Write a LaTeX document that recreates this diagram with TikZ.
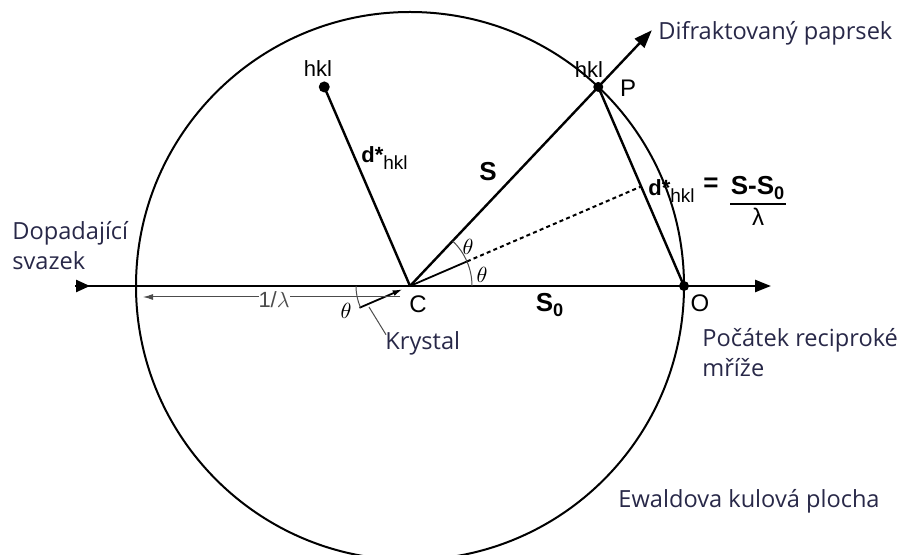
\documentclass[tikz,border=0pt]{standalone}
\usepackage{fontspec}
\setmainfont{Liberation Sans}
\newfontfamily\notefont{Open Sans}
\usetikzlibrary{arrows.meta,calc,positioning}
\definecolor{notecol}{RGB}{40,40,72}

\begin{document}
\begin{tikzpicture}[x=0.5pt,y=-0.5pt,
    beam/.style={line width=1.2pt},
    thinline/.style={line width=0.5pt,black!70},
    note/.style={font=\notefont\fontsize{11.8}{15}\selectfont,text=notecol,align=left,inner sep=0pt},
    lbl/.style={font=\fontsize{11}{13}\selectfont,inner sep=0pt},
    vec/.style={font=\bfseries\fontsize{13}{15}\selectfont,inner sep=0pt},
    ang/.style={font=\fontsize{11}{13}\selectfont,inner sep=0pt},
    spot/.style={circle,fill,inner sep=0pt,minimum size=5pt}]
  \useasboundingbox (0,0) rectangle (898,555);
  % Ewald sphere around the crystal C
  \coordinate (C) at (410,286);
  \coordinate (O) at (684,286);
  \coordinate (P) at ($(C)+(-46.6:274)$);
  \coordinate (hklA) at ($(C)+(P)-(O)$);
  \coordinate (dif) at ($(C)+(-46.6:352)$);
  \coordinate (mid) at ($(P)!0.5!(O)$);
  \coordinate (bis) at ($(C)+(-23.3:62)$);
  \coordinate (kry) at ($(C)+(156.7:55)$);
  \draw[line width=1pt] (C) circle[radius=274];
  % incident beam
  \coordinate (inL) at (75,286);
  \coordinate (inT) at (90,286);
  \coordinate (outR) at (771,286);
  \draw[beam,-{Triangle[length=8pt,width=6pt]}] (inL) -- (outR);
  \draw[beam,-{Triangle[length=7pt,width=6pt]}] (inL) -- (inT);
  % vectors
  \draw[beam] (C) -- (hklA);
  \draw[beam,-{Triangle[length=9pt,width=6.5pt]}] (C) -- (dif);
  \draw[beam] (P) -- (O);
  \draw[line width=0.9pt] (C) -- (bis);
  \draw[line width=1pt,dash pattern=on 2pt off 1.6pt] (bis) -- (mid);
  \coordinate (arcA) at ($(C)+(0:62)$);
  \draw[thinline] (arcA) arc[start angle=0,end angle=-46.6,radius=62];
  \node[ang] (thA) at (482,275) {$\theta$};
  \node[ang] (thB) at (468,247) {$\theta$};
  % crystal
  \draw[line width=0.9pt,-{Latex[length=5pt,width=3pt]},shorten >=4pt] (kry) -- (C);
  \coordinate (arcK) at ($(C)+(180:54)$);
  \draw[thinline] (arcK) arc[start angle=180,end angle=156.7,radius=54];
  \node[ang] (thK) at (346,311) {$\theta$};
  \coordinate (lamR) at (400,297);
  \coordinate (lamL) at (143,297);
  \draw[thinline,-{Latex[length=5pt,width=3pt]}] (lamR) --
    node[pos=0.49,fill=white,inner sep=1pt,yshift=-1.5pt,lbl] {1/$\lambda$} (lamL);
  \coordinate (kryT) at (369,307);
  \node[note,anchor=base west] (krystal) at (385,350) {Krystal};
  \draw[thinline] (kryT) -- ($(krystal.north west)+(1,3)$);
  % points
  \node[spot] (dotP) at (P) {};
  \node[spot] (dotO) at (O) {};
  \node[spot,minimum size=5.5pt] (dotA) at (hklA) {};
  % labels
  \node[lbl] (labA) at (318,69) {hkl};
  \node[lbl] (labP) at (589,70) {hkl};
  \node[lbl,font=\fontsize{12}{14}\selectfont] (labPP) at (628,88) {P};
  \node[lbl,font=\fontsize{12}{14}\selectfont] (labC) at (418,304) {C};
  \node[lbl,font=\fontsize{12}{14}\selectfont] (labO) at (700,303) {O};
  \node[lbl,anchor=west] (labd) at (361,158)
    {\textbf{d*}\raisebox{-0.6ex}{\fontsize{9.5}{10}\selectfont hkl}};
  \node[vec] (labS) at (488,172) {S};
  \node[vec] (labS0) at (550,305) {S\textsubscript{0}};
  % Laue condition
  \node[lbl,anchor=west] (eqd) at (648,191)
    {\textbf{d*}\raisebox{-0.6ex}{\fontsize{9.5}{10}\selectfont hkl}};
  \node[vec] (eqeq) at (711,185) {=};
  \node[vec,inner ysep=2pt] (num) at (758,188) {S-S\textsubscript{0}};
  \draw[line width=1pt] (num.south west) -- (num.south east);
  \node[vec,below=2pt of num,font=\fontsize{12}{14}\selectfont] (den) {λ};
  % notes
  \node[note,anchor=base west] (nDif) at (658,40) {Difraktovaný paprsek};
  \node[note,anchor=base west] (nDop) at (12,270) {Dopadající\\svazek};
  \node[note,anchor=base west] (nPoc) at (702,376) {Počátek reciproké\\mříže};
  \node[note,anchor=base east] (nEw) at (880,507) {Ewaldova kulová plocha};
\end{tikzpicture}
\end{document}
